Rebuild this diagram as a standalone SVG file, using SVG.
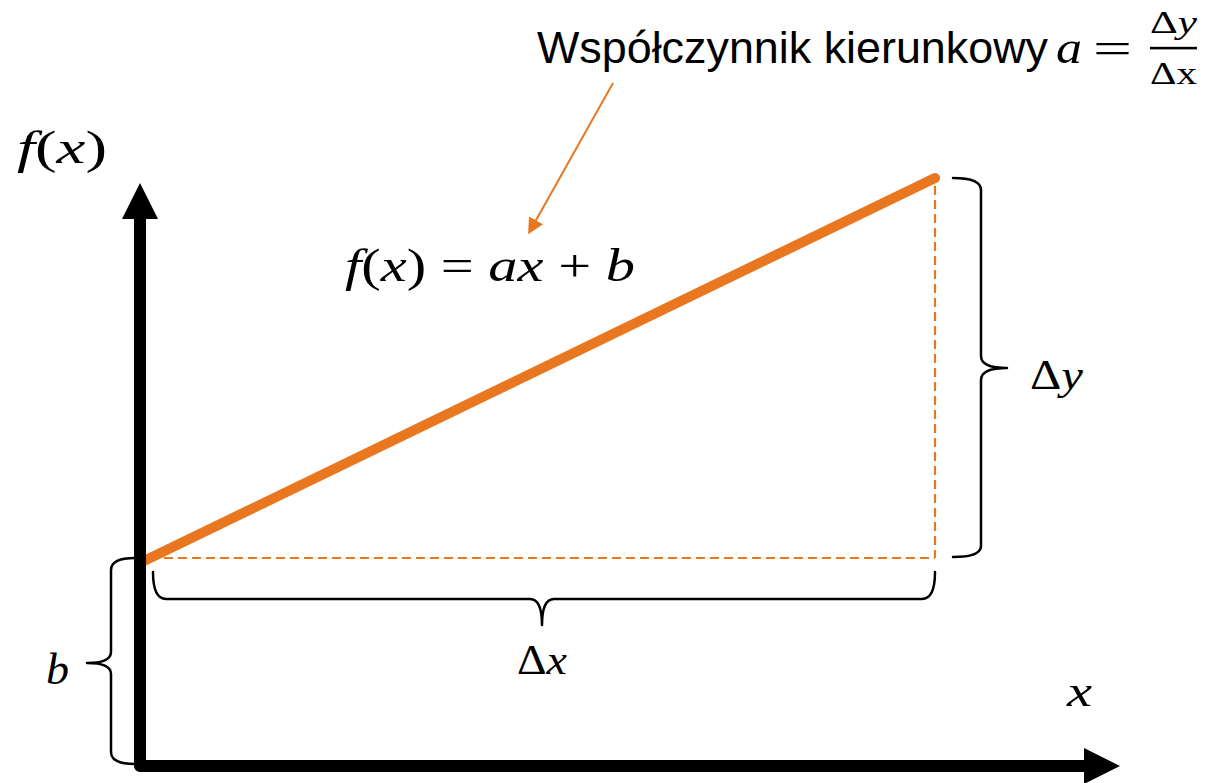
<svg xmlns="http://www.w3.org/2000/svg" width="1205" height="783" viewBox="0 0 1205 783">
<style>
.m{font-family:"Liberation Serif","DejaVu Serif",serif;font-style:italic;fill:#000}
.u{font-style:normal}
.s{font-family:"Liberation Sans",Arial,sans-serif;fill:#000}
.br{fill:none;stroke:#000;stroke-width:2.5;stroke-linejoin:round;stroke-linecap:round}
.dash{fill:none;stroke:#E8771F;stroke-width:2.2;stroke-dasharray:9 5}
</style>
<defs>
<marker id="ah" markerWidth="8" markerHeight="8" refX="1" refY="4" orient="auto" markerUnits="strokeWidth">
<path d="M0,0 L8,4 L0,8 Z" fill="#E8771F"/>
</marker>
</defs>
<rect width="1205" height="783" fill="#fff"/>
<g id="connectors">
<path class="dash" d="M150,558 L935,558"/>
<path class="dash" d="M935,186 L935,558"/>
<path d="M146,560 L935,178" stroke="#E8771F" stroke-width="10" stroke-linecap="round" fill="none"/>
<path d="M613,83 L535,222" stroke="#E8771F" stroke-width="2" fill="none" marker-end="url(#ah)"/>
</g>
<g id="axes">
<path d="M140,215 L140,766 L1086,766" fill="none" stroke="#000" stroke-width="12" stroke-linejoin="round"/>
<polygon points="140,183 122,219 158,219" fill="#000"/>
<polygon points="1120,766 1084,748 1084,784" fill="#000"/>
</g>
<g id="braces">
<path class="br" d="M953,178 Q981,178 981,190 L981,356 Q981,368 1007,368 Q981,368 981,380 L981,546 Q981,557 953,557"/>
<path class="br" d="M153,572 Q153,599 166,599 L530,599 Q542,599 542,625 Q542,599 554,599 L922,599 Q935,599 935,572"/>
<path class="br" d="M135,558 Q111,558 111,570 L111,652 Q111,663 87,663 Q111,663 111,674 L111,752 Q111,764 135,764"/>
</g>
<g id="title">
<text class="s" x="537" y="63" font-size="45" textLength="511" lengthAdjust="spacingAndGlyphs">Współczynnik kierunkowy</text>
<text class="m" x="1056" y="63" font-size="46" textLength="26" lengthAdjust="spacingAndGlyphs">a</text>
<text class="m u" x="1093" y="63" font-size="44" textLength="39" lengthAdjust="spacingAndGlyphs">=</text>
<text class="m" x="1150" y="33" font-size="31" textLength="47" lengthAdjust="spacingAndGlyphs"><tspan class="u">Δ</tspan>y</text>
<rect x="1150" y="46.8" width="47" height="2.6" fill="#000"/>
<text class="m u" x="1150" y="84" font-size="31" textLength="47" lengthAdjust="spacingAndGlyphs">Δx</text>
</g>
<g id="label-fx">
<text class="m" x="17" y="163" font-size="46" textLength="90" lengthAdjust="spacingAndGlyphs">f<tspan class="u">(</tspan>x<tspan class="u">)</tspan></text>
</g>
<g id="label-formula">
<text class="m" x="345" y="281" font-size="46" textLength="290" lengthAdjust="spacingAndGlyphs">f<tspan class="u">(</tspan>x<tspan class="u">) = </tspan>ax<tspan class="u"> + </tspan>b</text>
</g>
<g id="label-dy">
<text class="m" x="1030" y="389" font-size="42" textLength="53" lengthAdjust="spacingAndGlyphs"><tspan class="u">Δ</tspan>y</text>
</g>
<g id="label-dx">
<text class="m" x="517" y="674" font-size="42" textLength="50" lengthAdjust="spacingAndGlyphs"><tspan class="u">Δ</tspan>x</text>
</g>
<g id="label-b">
<text class="m" x="46" y="684" font-size="44" textLength="23" lengthAdjust="spacingAndGlyphs">b</text>
</g>
<g id="label-x">
<text class="m" x="1067" y="706" font-size="44" textLength="25" lengthAdjust="spacingAndGlyphs">x</text>
</g>
</svg>
